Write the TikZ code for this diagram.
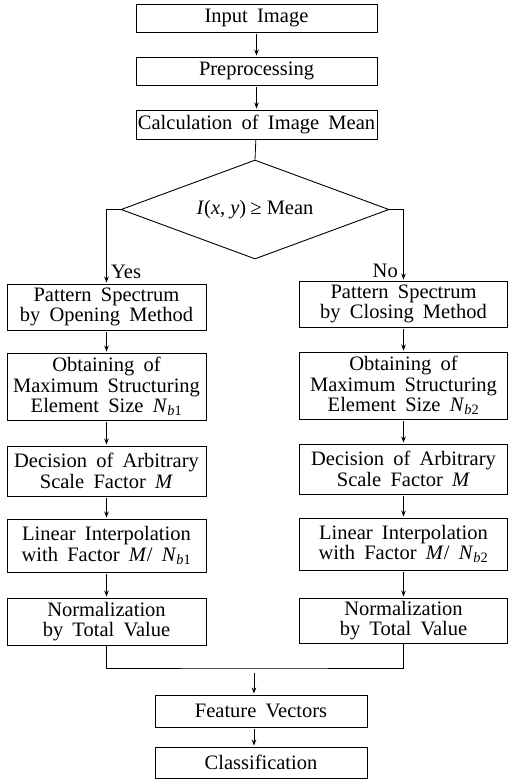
\documentclass[tikz,border=0pt]{standalone}
\usepackage{fontspec}
\setmainfont{Liberation Serif}[WordSpace=1.8]
\usetikzlibrary{arrows.meta,shapes.geometric}
\begin{document}
\begin{tikzpicture}[x=1pt,y=-1pt,
  txt/.style={font=\fontsize{20.5}{20.5}\selectfont},
  box/.style={draw, line width=0.9pt, inner sep=1pt, align=center, txt},
  topbox/.style={box, minimum width=241pt, minimum height=28pt},
  lbox/.style={box, minimum width=199pt},
  rbox/.style={box, minimum width=208pt},
  cbox/.style={box, minimum width=212pt, minimum height=31pt},
  link/.style={line width=0.8pt},
  arr/.style={link, -{Stealth[length=6pt,width=4.5pt]}, shorten <=2pt, shorten >=1pt},
  arrn/.style={link, -{Stealth[length=6pt,width=4.5pt]}, shorten >=1pt},
  lbl/.style={txt, inner sep=1pt}]
\useasboundingbox (0,0) rectangle (509,780);
% top
\node[topbox] (in) at (256.5,18) {Input Image};
\node[topbox] (pre) at (256.5,71) {Preprocessing};
\node[topbox, minimum height=29pt] (cal) at (256.5,124.5) {Calculation of Image Mean};
\node[draw, diamond, shape aspect=2.7, minimum width=268pt, minimum height=99pt,
      inner sep=0pt, line width=0.9pt, txt] (cond) at (255,209.5)
      {\textit{I}(\textit{x},\hspace{0.25em}\textit{y})\hspace{0.2em}≥\hspace{0.25em}Mean};
% left column
\node[lbox, minimum height=46pt] (l1) at (106.5,307) {Pattern Spectrum\\by Opening Method};
\node[lbox, minimum height=67pt] (l2) at (106.5,386.5) {Obtaining of\\Maximum Structuring\\Element Size \textit{N}\textsubscript{\textit{b}1}};
\node[lbox, minimum height=50pt] (l3) at (106.5,471) {Decision of Arbitrary\\Scale Factor \textit{M}};
\node[lbox, minimum height=53pt] (l4) at (106.5,545.5) {Linear Interpolation\\with Factor \textit{M}/ \textit{N}\textsubscript{\textit{b}1}};
\node[lbox, minimum height=47pt] (l5) at (106.5,621.5) {Normalization\\by Total Value};
% right column
\node[rbox, minimum height=46pt] (r1) at (403.5,304) {Pattern Spectrum\\by Closing Method};
\node[rbox, minimum height=67pt] (r2) at (403.5,385.5) {Obtaining of\\Maximum Structuring\\Element Size \textit{N}\textsubscript{\textit{b}2}};
\node[rbox, minimum height=50pt] (r3) at (403.5,469) {Decision of Arbitrary\\Scale Factor \textit{M}};
\node[rbox, minimum height=52pt] (r4) at (403.5,544) {Linear Interpolation\\with Factor \textit{M}/ \textit{N}\textsubscript{\textit{b}2}};
\node[rbox, minimum height=45pt] (r5) at (403.5,620.5) {Normalization\\by Total Value};
% bottom
\node[cbox, minimum height=32pt] (fv) at (261,711) {Feature Vectors};
\node[cbox] (cl) at (261,762.5) {Classification};
% labels
\node[lbl, anchor=west] (yes) at (110,272) {Yes};
\node[lbl, anchor=east] (no) at (399,271) {No};
% connectors
\draw[arr] (in) -- (pre);
\draw[arr] (pre) -- (cal);
\draw[link] (cal) -- (cond.north);
\draw[arrn] (cond.west) -| (l1.north);
\draw[arrn] (cond.east) -| (r1.north);
\foreach \a/\b in {l1/l2,l2/l3,l3/l4,l4/l5,r1/r2,r2/r3,r3/r4,r4/r5}
  \draw[arr] (\a) -- (\b);
\coordinate (mj) at (254,668);
\draw[link] (l5.south) |- (mj) -| (r5.south);
\draw[arr, shorten <=5pt] (mj) -- (mj |- fv.north);
\draw[arr] (fv.south -| mj) -- (cl.north -| mj);
\end{tikzpicture}
\end{document}
